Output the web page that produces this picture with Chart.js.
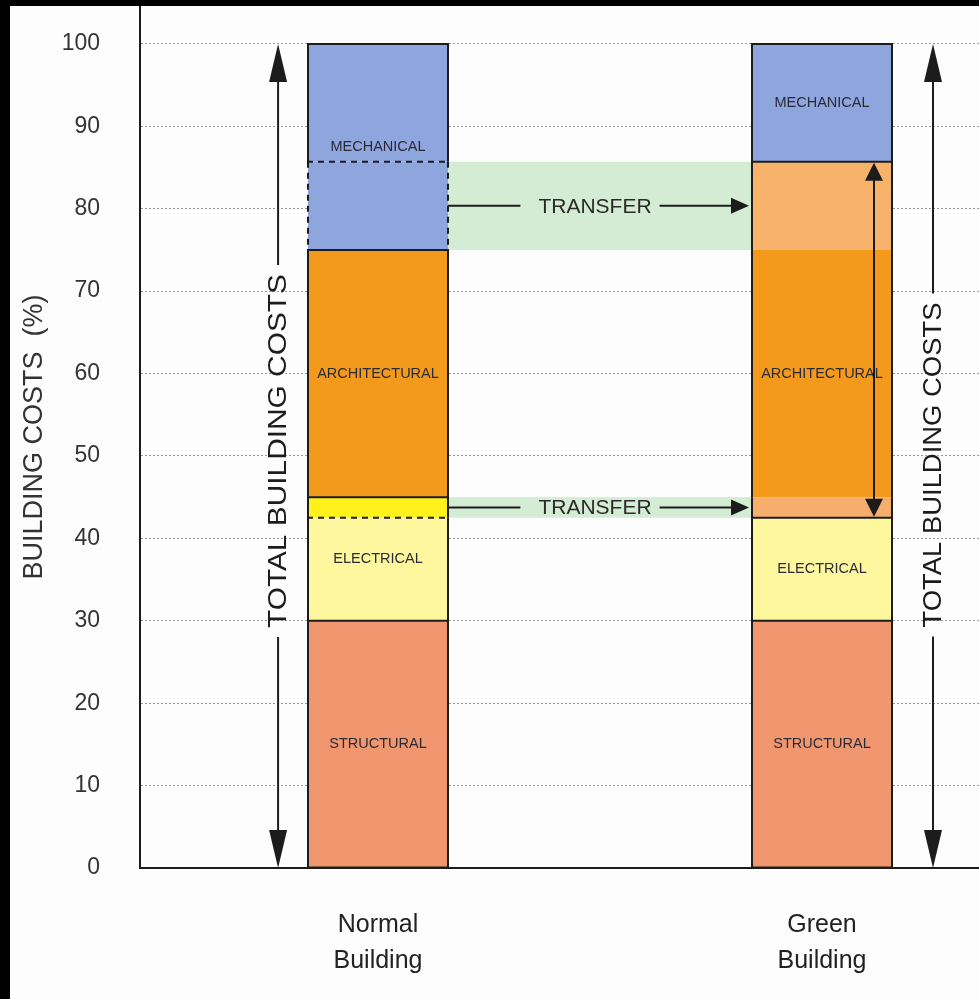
<!DOCTYPE html>
<html>
<head>
<meta charset="utf-8">
<script src="https://cdn.jsdelivr.net/npm/chart.js@4.4.1/dist/chart.umd.min.js"></script>
<style>
  html, body { margin: 0; padding: 0; background: #000; width: 979px; height: 999px; overflow: hidden; }
  #wrap { position: absolute; left: 10px; top: 6px; width: 969px; height: 993px; background: #fdfdfd; }
</style>
</head>
<body>
<div id="wrap"><canvas id="costChart"></canvas></div>
<script>
// Chart data (% of total building cost)
const categories = ['Normal Building', 'Green Building'];
const structural = [30, 30];
const electrical = [12.5, 12.5];
const electricalTransfer = [2.5, 2.5];
const architectural = [30, 30];
const mechanicalTransfer = [10.7, 10.7];
const mechanical = [14.3, 14.3];
const yTicks = [0, 10, 20, 30, 40, 50, 60, 70, 80, 90, 100];

const FONT = '"Liberation Sans", Arial, sans-serif';
const INK = '#1c1c1c';

const toPoints = arr => arr.map((v, i) => ({ x: i, y: v }));

const datasets = [
  { label: 'STRUCTURAL', data: toPoints(structural), backgroundColor: '#f0976f',
    names: ['STRUCTURAL', 'STRUCTURAL'], topLine: ['solid', 'solid'] },
  { label: 'ELECTRICAL', data: toPoints(electrical), backgroundColor: '#fff79e',
    names: ['ELECTRICAL', 'ELECTRICAL'], topLine: ['dash', 'solid'] },
  { label: 'ELECTRICAL TRANSFER', data: toPoints(electricalTransfer), backgroundColor: ['#fff21c', '#f5ae6c'],
    names: ['ELECTRICAL', null], topLine: ['solid', 'none'], transfer: true },
  { label: 'ARCHITECTURAL', data: toPoints(architectural), backgroundColor: '#f39a1c',
    names: ['ARCHITECTURAL', 'ARCHITECTURAL'], topLine: ['solid', 'none'] },
  { label: 'MECHANICAL TRANSFER', data: toPoints(mechanicalTransfer), backgroundColor: ['#8fa5dd', '#f7b36b'],
    names: ['MECHANICAL', null], topLine: ['dash', 'solid'], sideLine: ['dash', 'solid'], transfer: true },
  { label: 'MECHANICAL', data: toPoints(mechanical), backgroundColor: '#8fa5dd',
    names: ['MECHANICAL', 'MECHANICAL'], topLine: ['solid', 'solid'] }
];

function strokeLine(ctx, x1, y1, x2, y2, style) {
  if (!style || style === 'none') return;
  ctx.setLineDash(style === 'dash' ? [6, 5] : []);
  ctx.beginPath();
  ctx.moveTo(x1, y1);
  ctx.lineTo(x2, y2);
  ctx.stroke();
}

// dir = unit vector pointing towards the tip
function arrowHead(ctx, tipX, tipY, dirX, dirY, len, half) {
  const bx = tipX - dirX * len, by = tipY - dirY * len;
  ctx.beginPath();
  ctx.moveTo(tipX, tipY);
  ctx.lineTo(bx - dirY * half, by + dirX * half);
  ctx.lineTo(bx + dirY * half, by - dirX * half);
  ctx.closePath();
  ctx.fill();
}

function bar(chart, d, i) {
  const el = chart.getDatasetMeta(d).data[i];
  const p = el.getProps(['x', 'y', 'base', 'width'], true);
  return { left: p.x - p.width / 2, right: p.x + p.width / 2, top: p.y, bottom: p.base, cx: p.x };
}

// vertical "TOTAL BUILDING COSTS" double arrow
function totalArrow(chart, xValue, centerValue, textLen) {
  const ctx = chart.ctx;
  const x = chart.scales.x.getPixelForValue(xValue);
  const yTop = chart.scales.y.getPixelForValue(100);
  const yBot = chart.scales.y.getPixelForValue(0);
  const cy = chart.scales.y.getPixelForValue(centerValue);
  const gap = 9;
  ctx.lineWidth = 2;
  strokeLine(ctx, x, yTop + 20, x, cy - textLen / 2 - gap, 'solid');
  strokeLine(ctx, x, cy + textLen / 2 + gap, x, yBot - 20, 'solid');
  arrowHead(ctx, x, yTop, 0, -1, 38, 9);
  arrowHead(ctx, x, yBot, 0, 1, 38, 9);
  ctx.save();
  ctx.translate(x, cy);
  ctx.rotate(-Math.PI / 2);
  ctx.font = '25px ' + FONT;
  ctx.textAlign = 'center';
  ctx.textBaseline = 'middle';
  const w = ctx.measureText('TOTAL BUILDING COSTS').width;
  ctx.scale(textLen / w, 1);
  ctx.fillText('TOTAL BUILDING COSTS', 0, 1);
  ctx.restore();
}

const overlay = {
  id: 'overlay',
  beforeDatasetsDraw(chart) {
    const ctx = chart.ctx;
    ctx.save();
    ctx.fillStyle = '#d4ebd4';
    chart.data.datasets.forEach((ds, d) => {
      if (!ds.transfer) return;
      const a = bar(chart, d, 0), b = bar(chart, d, 1);
      ctx.fillRect(a.right, a.top, b.left - a.right, a.bottom - a.top);
    });
    ctx.restore();
  },
  afterDatasetsDraw(chart) {
    const ctx = chart.ctx;
    const n = chart.data.datasets.length;
    ctx.save();
    ctx.strokeStyle = INK;
    ctx.fillStyle = INK;
    ctx.lineWidth = 2;

    // segment outlines
    chart.data.datasets.forEach((ds, d) => {
      categories.forEach((c, i) => {
        const s = bar(chart, d, i);
        const side = ds.sideLine ? ds.sideLine[i] : 'solid';
        strokeLine(ctx, s.left, s.top, s.left, s.bottom, side);
        strokeLine(ctx, s.right, s.top, s.right, s.bottom, side);
        strokeLine(ctx, s.left - 1, s.top, s.right + 1, s.top, ds.topLine[i]);
        if (d === 0) strokeLine(ctx, s.left - 1, s.bottom, s.right + 1, s.bottom, 'solid');
      });
    });
    ctx.setLineDash([]);

    // segment names, centred on runs of the same name
    ctx.font = '14.5px ' + FONT;
    ctx.textAlign = 'center';
    ctx.textBaseline = 'middle';
    ctx.fillStyle = '#2b2b38';
    categories.forEach((c, i) => {
      let d = 0;
      while (d < n) {
        const name = chart.data.datasets[d].names[i];
        let e = d;
        while (e + 1 < n && chart.data.datasets[e + 1].names[i] === name) e++;
        if (name) {
          const lo = bar(chart, d, i), hi = bar(chart, e, i);
          ctx.fillText(name, lo.cx, (lo.bottom + hi.top) / 2);
        }
        d = e + 1;
      }
    });

    // TRANSFER arrows
    ctx.fillStyle = INK;
    ctx.font = '21px ' + FONT;
    chart.data.datasets.forEach((ds, d) => {
      if (!ds.transfer) return;
      const a = bar(chart, d, 0), b = bar(chart, d, 1);
      const y = (a.top + a.bottom) / 2;
      const cx = (a.right + b.left) / 2 - 5;
      const w = ctx.measureText('TRANSFER').width;
      strokeLine(ctx, a.right, y, cx - w / 2 - 18, y, 'solid');
      strokeLine(ctx, cx + w / 2 + 8, y, b.left - 15, y, 'solid');
      arrowHead(ctx, b.left - 3, y, 1, 0, 18, 8);
      ctx.fillStyle = '#2a2a2a';
      ctx.fillText('TRANSFER', cx, y + 1);
      ctx.fillStyle = INK;
    });

    // double arrow inside the green building bar
    const lo = bar(chart, 1, 1), hi = bar(chart, 4, 1);
    const ax = lo.right - 18;
    strokeLine(ctx, ax, hi.top + 10, ax, lo.top - 10, 'solid');
    arrowHead(ctx, ax, hi.top + 1, 0, -1, 18, 9);
    arrowHead(ctx, ax, lo.top - 1, 0, 1, 18, 9);

    // total building cost arrows
    totalArrow(chart, -0.225, 50.6, 354);
    totalArrow(chart, 1.25, 48.9, 325);
    ctx.restore();
  }
};

const ctx = document.getElementById('costChart').getContext('2d');
const costChart = new Chart(ctx, {
  type: 'bar',
  data: { datasets: datasets },
  plugins: [overlay],
  options: {
    responsive: true,
    maintainAspectRatio: false,
    animation: false,
    layout: { padding: 0 },
    datasets: { bar: { barThickness: 140, borderWidth: 0, inflateAmount: 0 } },
    plugins: { legend: { display: false }, tooltip: { enabled: false } },
    scales: {
      x: {
        type: 'linear',
        stacked: true,
        offset: false,
        min: -0.536,
        max: 1.3536,
        afterBuildTicks: s => { s.ticks = categories.map((c, i) => ({ value: i })); },
        afterFit: s => { s.height = 131; s.paddingLeft = 0; s.paddingRight = 0; },
        grid: { display: false, offset: false },
        border: { color: INK, width: 2 },
        ticks: {
          callback: v => categories[v] ? categories[v].split(' ') : '',
          font: { family: FONT, size: 25, lineHeight: 1.44 },
          color: '#222',
          padding: 31,
          maxRotation: 0,
          autoSkip: false
        }
      },
      y: {
        stacked: true,
        min: 0,
        max: 104.6,
        afterBuildTicks: s => { s.ticks = yTicks.map(v => ({ value: v })); },
        afterFit: s => { s.width = 130; s.paddingTop = 0; s.paddingBottom = 0; },
        grid: {
          color: c => c.tick && c.tick.value === 0 ? 'rgba(0,0,0,0)' : '#9a9a9a',
          drawTicks: false,
          lineWidth: 1
        },
        border: { color: INK, width: 2, dash: [2, 2] },
        ticks: { font: { family: FONT, size: 23 }, color: '#333', padding: 40 },
        title: {
          display: true,
          text: 'BUILDING COSTS  (%)',
          font: { family: FONT, size: 27 },
          color: '#333',
          padding: { top: 8, bottom: 0 }
        }
      }
    }
  }
});
</script>
</body>
</html>
